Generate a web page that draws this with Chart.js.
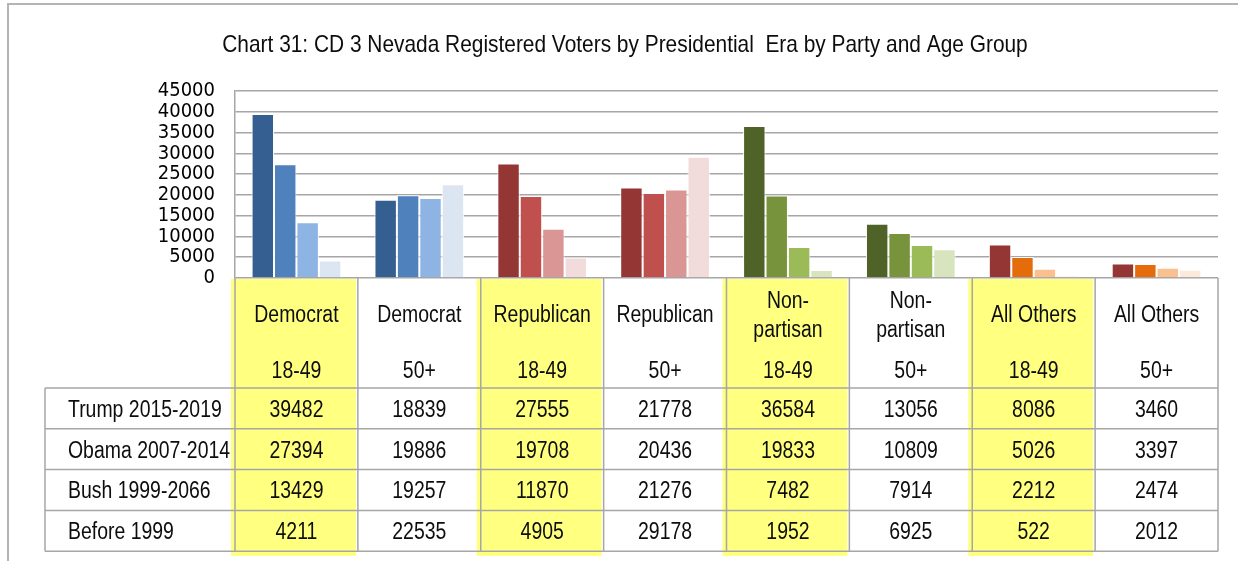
<!DOCTYPE html>
<html><head><meta charset="utf-8">
<script src="https://cdn.jsdelivr.net/npm/chart.js@4.4.1/dist/chart.umd.min.js"></script>
<style>html,body{margin:0;padding:0;background:#fff;}canvas{display:block;}</style>
</head><body>
<canvas id="c" width="1238" height="561" style="width:1238px;height:561px"></canvas>
<script>
// ---- data ----
const chartTitle = 'Chart 31: CD 3 Nevada Registered Voters by Presidential  Era by Party and Age Group';
const parties = ['Democrat','Democrat','Republican','Republican','Non-|partisan','Non-|partisan','All Others','All Others'];
const ages = ['18-49','50+','18-49','50+','18-49','50+','18-49','50+'];
const eras = ['Trump 2015-2019','Obama 2007-2014','Bush 1999-2066','Before 1999'];
const trump = [39482,18839,27555,21778,36584,13056,8086,3460];
const obama = [27394,19886,19708,20436,19833,10809,5026,3397];
const bush = [13429,19257,11870,21276,7482,7914,2212,2474];
const before1999 = [4211,22535,4905,29178,1952,6925,522,2012];
const yMax = 45000, yStep = 5000;

// ---- styles ----
const TFONT = "'Liberation Sans',Arimo,Arial,sans-serif";
const AXFONT = "'DejaVu Sans Condensed','DejaVu Sans',sans-serif";
const demCols = ['#365F91','#4F81BD','#8EB4E3','#DCE6F2'];
const repCols = ['#943634','#C0504D','#D99694','#F2DCDB'];
const nonCols = ['#4F6228','#77933C','#9BBB59','#D7E4BD'];
const othCols = ['#943634','#E46C0A','#FAC090','#FDE9D9'];
const catPalettes = [demCols,demCols,repCols,repCols,nonCols,nonCols,othCols,othCols];
const series = [trump, obama, bush, before1999];
const highlight = [true,false,true,false,true,false,true,false];

function narrowText(ctx, text, x, y, align, sx){
  ctx.save();
  ctx.translate(x, y);
  ctx.scale(sx, 1);
  ctx.textAlign = align;
  ctx.fillText(text, 0, 0);
  ctx.restore();
}

const tablePlugin = {
  id:'tablePlugin',
  beforeDraw(chart){
    const ctx = chart.ctx, x = chart.scales.x, ca = chart.chartArea;
    const n = parties.length, w = (x.right - x.left)/n;
    ctx.save();
    ctx.fillStyle = '#FFFF80';
    for(let i=0;i<n;i++){
      if(!highlight[i]) continue;
      const l = x.left + i*w;
      ctx.fillRect(l-4, ca.bottom+1, w+2, 277);
    }
    ctx.restore();
  },
  afterDraw(chart){
    const ctx = chart.ctx, x = chart.scales.x, ca = chart.chartArea;
    const n = parties.length, w = (x.right - x.left)/n;
    const top = ca.bottom;
    const rowTop = top + 110, rowH = 40.8;
    const tableBottom = rowTop + rowH*eras.length;
    const tableLeft = 45;
    const SX = 0.845;
    ctx.save();
    // outer frame
    ctx.strokeStyle = '#B4B4B4'; ctx.lineWidth = 2;
    ctx.beginPath(); ctx.moveTo(8,561); ctx.lineTo(8,4); ctx.lineTo(1238,4); ctx.stroke();
    // table grid
    ctx.strokeStyle = '#A6A6A6'; ctx.lineWidth = 1.5;
    ctx.beginPath();
    for(let i=0;i<=n;i++){
      const xx = x.left + i*w;
      ctx.moveTo(xx, top); ctx.lineTo(xx, tableBottom);
    }
    for(let r=0;r<=eras.length;r++){
      const yy = rowTop + r*rowH;
      ctx.moveTo(tableLeft, yy); ctx.lineTo(x.right, yy);
    }
    ctx.moveTo(tableLeft, rowTop); ctx.lineTo(tableLeft, tableBottom);
    ctx.stroke();
    // header text
    ctx.fillStyle = '#0d0d0d';
    ctx.font = '23px ' + TFONT;
    ctx.textBaseline = 'middle';
    for(let i=0;i<n;i++){
      const cx = x.getPixelForValue(i);
      const lines = parties[i].split('|');
      if(lines.length === 1){
        narrowText(ctx, lines[0], cx, top + 38, 'center', SX);
      } else {
        narrowText(ctx, lines[0], cx, top + 24, 'center', SX);
        narrowText(ctx, lines[1], cx, top + 53, 'center', SX);
      }
      narrowText(ctx, ages[i], cx, top + 94, 'center', SX);
    }
    // rows
    for(let r=0;r<eras.length;r++){
      const cy = rowTop + r*rowH + rowH/2 + 2;
      narrowText(ctx, eras[r], 68, cy, 'left', SX);
      for(let i=0;i<n;i++){
        narrowText(ctx, String(series[r][i]), x.getPixelForValue(i), cy, 'center', SX);
      }
    }
    // title
    ctx.font = '24px ' + TFONT;
    narrowText(ctx, chartTitle, 625, 45, 'center', 0.87);
    ctx.restore();
  }
};

new Chart(document.getElementById('c'), {
  type:'bar',
  data:{
    labels: parties.map((p,i)=>p.replace('|','') + ' ' + ages[i]),
    datasets: eras.map((e,k)=>({
      label:e,
      data: series[k],
      backgroundColor: catPalettes.map(p=>p[k]),
      borderColor:'rgba(255,255,255,0.95)',
      borderWidth:1,
      categoryPercentage:0.73,
      barPercentage:1
    }))
  },
  options:{
    responsive:false, animation:false, devicePixelRatio:1,
    layout:{padding:{left:0,right:20,top:91,bottom:283}},
    plugins:{legend:{display:false}, title:{display:false}, tooltip:{enabled:false}},
    scales:{
      x:{display:false},
      y:{
        min:0, max:yMax,
        ticks:{stepSize:yStep, autoSkip:false, padding:20, color:'#000',
               font:{family:AXFONT, size:20, lineHeight:1},
               callback:(v)=>String(v)},
        grid:{color:'#A6A6A6', lineWidth:1.5, drawTicks:false},
        border:{color:'#A6A6A6', width:1.5},
        afterFit(s){ s.width = 235; }
      }
    }
  },
  plugins:[tablePlugin]
});
</script>
</body></html>
